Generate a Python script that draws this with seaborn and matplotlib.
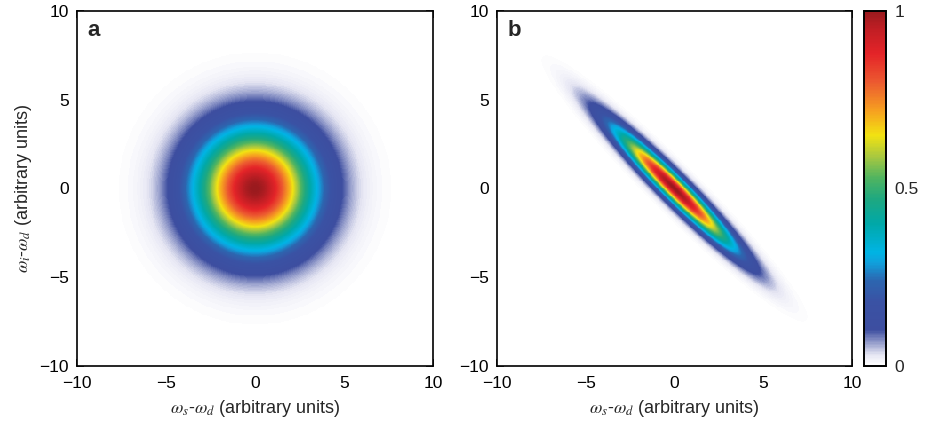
import numpy as np
import pandas as pd
import matplotlib
matplotlib.use("Agg")
import matplotlib.pyplot as plt
from matplotlib.colors import LinearSegmentedColormap
import seaborn as sns

# ---- values ----
axis_range = [-10, 10]
tick_values = [-10, -5, 0, 5, 10]
cbar_ticks = [0, 0.5, 1]
cbar_ticklabels = ["0", "0.5", "1"]
# panel a: round Gaussian joint spectrum
sigma_a = [2.3, 2.3]          # widths along x, y
angle_a = 0.0
# panel b: narrow anti-correlated ellipse
sigma_b = [3.15, 0.42]        # widths along major, minor axis
angle_b = -45.0               # degrees, orientation of major axis
panel_letters = ["a", "b"]
xlabel = r"$\omega_s$-$\omega_d$ (arbitrary units)"
ylabel = r"$\omega_i$-$\omega_d$ (arbitrary units)"

cmap_pos = [0.00, 0.03, 0.10, 0.18, 0.24, 0.29, 0.32, 0.40, 0.47, 0.53,
            0.59, 0.65, 0.72, 0.80, 0.88, 0.95, 1.00]
cmap_col = ["#ffffff", "#e6e6f3", "#3d4ea0", "#3a52a4", "#2c66b0", "#10a0dc",
            "#00b4e4", "#00a8a8", "#1ea880", "#50b460", "#a8c840", "#f2e212",
            "#f6a020", "#ec5a30", "#e42428", "#c01e24", "#9a1a1e"]

# ---- build grids ----
N = 400
centers = axis_range[0] + (np.arange(N) + 0.5) * (axis_range[1] - axis_range[0]) / N
X, Y = np.meshgrid(centers, centers[::-1])


def gauss2d(sig, ang):
    t = np.deg2rad(ang)
    u = X * np.cos(t) + Y * np.sin(t)
    v = -X * np.sin(t) + Y * np.cos(t)
    return np.exp(-u**2 / (2 * sig[0]**2) - v**2 / (2 * sig[1]**2))


labels = [f"{c:.3f}" for c in centers]
df_a = pd.DataFrame(gauss2d(sigma_a, angle_a), index=labels[::-1], columns=labels)
df_b = pd.DataFrame(gauss2d(sigma_b, angle_b), index=labels[::-1], columns=labels)

cmap = LinearSegmentedColormap.from_list("jetwhite", list(zip(cmap_pos, cmap_col)))

sns.set_style("white")
plt.rcParams["font.family"] = ["Liberation Sans", "DejaVu Sans"]
plt.rcParams["mathtext.fontset"] = "stix"

fig = plt.figure(figsize=(9.33, 4.26), dpi=100)
W, H = 933, 426
def rect(l, t, r, b):
    return [l / W, (H - b) / H, (r - l) / W, (b - t) / H]

ax_a = fig.add_axes(rect(77, 11, 433, 366))
ax_b = fig.add_axes(rect(497, 11, 852, 366))
cax = fig.add_axes(rect(864, 11, 886, 366))

for ax, df, letter, first in [(ax_a, df_a, panel_letters[0], True),
                               (ax_b, df_b, panel_letters[1], False)]:
    sns.heatmap(df, ax=ax, cmap=cmap, vmin=0, vmax=1, cbar=not first,
                cbar_ax=None if first else cax, xticklabels=False,
                yticklabels=False, rasterized=True)
    pos = [N * (v - axis_range[0]) / (axis_range[1] - axis_range[0]) for v in tick_values]
    ax.set_xticks(pos)
    ax.set_xticklabels([f"{v}".replace("-", "\u2212") for v in tick_values], fontsize=12.5)
    ax.set_yticks([N - p for p in pos])
    ax.set_yticklabels([f"{v}".replace("-", "\u2212") for v in tick_values], fontsize=12.5,
                       rotation=0)
    ax.tick_params(direction="in", length=5, width=1.1, top=True, right=True,
                   bottom=True, left=True, pad=6, colors="black")
    ax.tick_params(axis="x", pad=7)
    for s in ax.spines.values():
        s.set_visible(True)
        s.set_linewidth(1.2)
        s.set_color("black")
    ax.set_xlabel(xlabel, fontsize=13, labelpad=5)
    ax.text(0.03, 0.975, letter, transform=ax.transAxes, fontsize=16,
            fontweight="bold", va="top", ha="left")

ax_a.set_ylabel(ylabel, fontsize=13, labelpad=4)
ax_b.set_ylabel("")

cax.set_yticks(cbar_ticks)
cax.set_yticklabels(cbar_ticklabels, fontsize=12.5)
cax.tick_params(direction="in", length=4, width=1.1, left=True, right=True,
                labelleft=False, labelright=True, pad=6)
for s in cax.spines.values():
    s.set_visible(True)
    s.set_linewidth(1.2)
    s.set_color("black")

fig.savefig("out.png", dpi=100)
